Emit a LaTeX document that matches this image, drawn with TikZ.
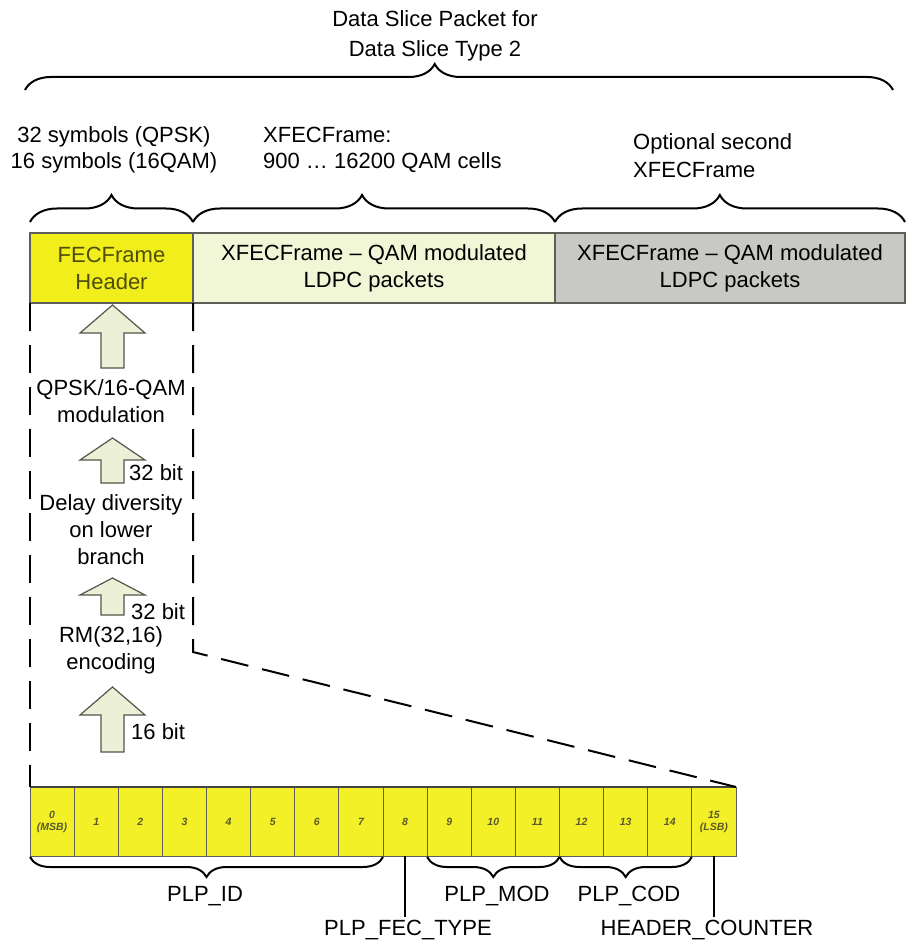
\documentclass[tikz,border=0pt]{standalone}
\usepackage{fontspec}
\setmainfont{Liberation Sans}
\usetikzlibrary{decorations.pathreplacing}
\definecolor{hdryellow}{RGB}{242,238,28}
\definecolor{cellyellow}{RGB}{243,240,40}
\definecolor{palegreen}{RGB}{240,246,214}
\definecolor{boxgrey}{RGB}{200,200,197}
\definecolor{hdrtext}{RGB}{78,78,12}
\definecolor{arrowfill}{RGB}{236,240,214}
\definecolor{arrowline}{RGB}{85,85,75}
\definecolor{boxline}{RGB}{95,95,90}
\definecolor{numtext}{RGB}{90,90,40}
\newcommand\blkup[3]{\draw[arrowblk] (112.5,#1) -- (145,#2) -- (124,#2) -- (124,#3) -- (101,#3) -- (101,#2) -- (80,#2) -- cycle;}
\begin{document}
\begin{tikzpicture}[x=1pt,y=-1pt,
  lbl/.style={font=\fontsize{22}{27}\selectfont, inner sep=0pt, align=center},
  lblL/.style={font=\fontsize{22}{27}\selectfont, inner sep=0pt, align=left, anchor=west},
  framebox/.style={draw=boxline, line width=1.1pt, minimum height=70pt, inner sep=0pt, outer sep=0pt, anchor=north west, align=center, font=\fontsize{22}{27}\selectfont},
  cellbox/.style={draw=boxline, line width=0.9pt, fill=cellyellow, minimum width=44.125pt, minimum height=69pt, inner sep=0pt, outer sep=0pt, anchor=north west, align=center, font=\fontsize{10.5}{12}\selectfont\itshape\bfseries, text=numtext},
  brc/.style={decorate, decoration={brace, amplitude=#1}, line width=2pt},
  dashline/.style={line width=2pt, dash pattern=on 28pt off 14pt},
  arrowblk/.style={draw=arrowline, fill=arrowfill, line width=1.2pt, line join=miter},
  stem/.style={line width=2.2pt}
]
\useasboundingbox (0,0) rectangle (909,941);
\fill[white] (0,0) rectangle (909,941);

% titles
\node[lbl, font=\fontsize{22}{30}\selectfont] (title) at (435,36) {Data Slice Packet for\\Data Slice Type 2};
\coordinate (tbl) at (25,90);
\coordinate (tbr) at (893,90);
\draw[brc=26pt, decoration={aspect=0.472}] (tbl) -- (tbr);

\node[lbl, font=\fontsize{22}{26}\selectfont] (sym) at (114,150) {32 symbols (QPSK)\\16 symbols (16QAM)};
\node[lblL, font=\fontsize{22}{26}\selectfont] (xf) at (263,150) {XFECFrame:\\900 \dots{} 16200 QAM cells};
\node[lblL, font=\fontsize{22}{28}\selectfont] (opt) at (633,156) {Optional second\\XFECFrame};

% frame boxes
\node[framebox, fill=hdryellow, text=hdrtext, minimum width=163pt] (hdr) at (30,233) {FECFrame\\Header};
\node[framebox, fill=palegreen, minimum width=362pt] (grn) at (193,233) {XFECFrame -- QAM modulated\\LDPC packets};
\node[framebox, fill=boxgrey, minimum width=350pt] (gry) at (555,233) {XFECFrame -- QAM modulated\\LDPC packets};

\draw[brc=27pt, decoration={aspect=0.5}] ([yshift=11pt]hdr.north west) -- ([yshift=11pt]hdr.north east);
\draw[brc=27pt, decoration={aspect=0.467}] ([yshift=11pt]grn.north west) -- ([yshift=11pt]grn.north east);
\draw[brc=27pt, decoration={aspect=0.471}] ([yshift=11pt]gry.north west) -- ([yshift=11pt]gry.north east);

% bit cells
\foreach \i in {0,...,15}{
  \ifnum\i=0
    \node[cellbox] (c\i) at (30+\i*44.125,787) {0\\(MSB)};
  \else\ifnum\i=15
    \node[cellbox] (c\i) at (30+\i*44.125,787) {15\\(LSB)};
  \else
    \node[cellbox] (c\i) at (30+\i*44.125,787) {\i};
  \fi\fi
}
\draw[line width=1.8pt, boxline!70!black] (c0.north west) -- (c15.north east);

% dashed guide lines
\coordinate (rmc) at (193,652);
\draw[dashline] (hdr.south west) -- (c0.north west);
\draw[dashline] (hdr.south east) -- (rmc) -- (c15.north east);

% processing chain
\blkup{305}{333}{368}
\node[lbl] (qpsk) at (111,401) {QPSK/16-QAM\\modulation};
\blkup{438}{460}{483}
\node[lblL] (b32a) at (129,473) {32 bit};
\node[lbl] (delay) at (111,530) {Delay diversity\\on lower\\branch};
\blkup{578}{595}{615}
\node[lblL] (b32b) at (131,612) {32 bit};
\node[lbl] (rm) at (111,650) {RM(32,16)\\encoding};
\blkup{687}{715}{752}
\node[lblL] (b16) at (131,732) {16 bit};

% field braces
\draw[brc=20pt, decoration={mirror}] ([yshift=-1pt]c0.south west) -- ([yshift=-1pt]c7.south east);
\draw[brc=20pt, decoration={mirror}] ([yshift=-1pt]c9.south west) -- ([yshift=-1pt]c11.south east);
\draw[brc=20pt, decoration={mirror}] ([yshift=-1pt]c12.south west) -- ([yshift=-1pt]c14.south east);

\node[lbl] (plpid) at (205,896) {PLP\_ID};
\node[lbl] (plpmod) at (497,896) {PLP\_MOD};
\node[lbl] (plpcod) at (629,896) {PLP\_COD};
\node[lbl, inner sep=3pt] (fec) at (408,930) {PLP\_FEC\_TYPE};
\node[lbl, inner sep=3pt] (hc) at (707,930) {HEADER\_COUNTER};
\draw[stem] (c8.south) -- (c8.south |- fec.north);
\draw[stem] (c15.south) -- (c15.south |- hc.north);
\end{tikzpicture}
\end{document}
